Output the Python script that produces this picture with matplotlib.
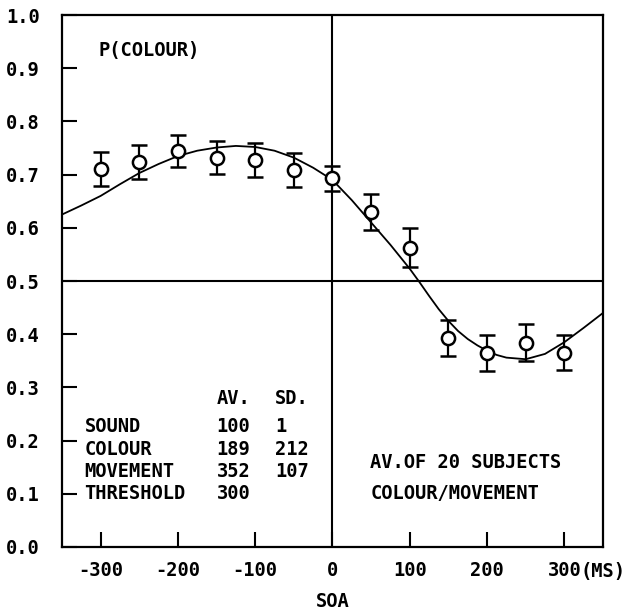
import matplotlib
matplotlib.use("Agg")
import matplotlib.pyplot as plt
import matplotlib.transforms as mtransforms

# observed points (SOA in ms, P(colour), error half-width)
soa = [-300, -250, -200, -150, -100, -50, 0, 50, 100, 150, 200, 250, 300]
p_colour = [0.711, 0.724, 0.744, 0.732, 0.727, 0.709, 0.693, 0.630, 0.563, 0.393, 0.365, 0.384, 0.365]
p_err = [0.032, 0.032, 0.030, 0.031, 0.032, 0.032, 0.024, 0.034, 0.036, 0.034, 0.034, 0.035, 0.033]

# fitted model curve
curve_x = [-350, -325, -300, -275, -250, -225, -200, -175, -150, -125, -100, -75, -50, -25,
           0, 25, 50, 75, 100, 112.5, 125, 137.5, 150, 162.5, 175, 187.5, 200, 212.5, 225,
           250, 275, 300, 325, 350]
curve_y = [0.625, 0.642, 0.660, 0.682, 0.703, 0.720, 0.735, 0.745, 0.751, 0.754, 0.752, 0.745,
           0.732, 0.713, 0.690, 0.652, 0.610, 0.568, 0.523, 0.498, 0.472, 0.447, 0.425, 0.406,
           0.391, 0.379, 0.369, 0.361, 0.356, 0.353, 0.363, 0.385, 0.412, 0.440]

x_ticks = [-300, -200, -100, 0, 100, 200, 300]
x_ticklabels = ["-300", "-200", "-100", "0", "100", "200", "300"]
y_ticks = [0.0, 0.1, 0.2, 0.3, 0.4, 0.5, 0.6, 0.7, 0.8, 0.9, 1.0]

table_rows = ["SOUND", "COLOUR", "MOVEMENT", "THRESHOLD"]
table_av = ["100", "189", "352", "300"]
table_sd = ["1", "212", "107", ""]

# plotter-style lettering: monospaced, fairly bold
plt.rcParams["font.family"] = "DejaVu Sans Mono"
plt.rcParams["font.weight"] = "bold"
fs = 13.5

fig = plt.figure(figsize=(6.35, 6.10), dpi=100)
ax = fig.add_axes([0.0976, 0.1033, 0.852, 0.872])

ax.plot(curve_x, curve_y, color="black", lw=1.3, zorder=2)
ax.errorbar(soa, p_colour, yerr=p_err, fmt="o", mfc="white", mec="black", mew=1.8,
            ms=9.5, ecolor="black", elinewidth=1.6, capsize=6, capthick=1.6, zorder=3)

ax.axvline(0, color="black", lw=1.5, zorder=1)
ax.axhline(0.5, color="black", lw=1.5, zorder=1)

ax.set_xlim(-350, 350)
ax.set_ylim(0, 1.0)
ax.set_xticks(x_ticks)
ax.set_xticklabels(x_ticklabels)
ax.set_yticks(y_ticks)
ax.set_yticklabels([f"{v:.1f}" for v in y_ticks])
ax.tick_params(axis="x", direction="in", length=11, width=1.5, pad=10, labelsize=fs)
ax.tick_params(axis="y", direction="in", length=11, width=1.5, pad=16, labelsize=fs)
for s in ax.spines.values():
    s.set_linewidth(1.6)

for lab in ax.get_xticklabels() + ax.get_yticklabels():
    lab.set_fontweight("bold")

# "(MS)" unit next to the 300 tick label
trans = mtransforms.blended_transform_factory(ax.transData, ax.transAxes)
ax.text(321, -0.028, "(MS)", transform=trans, ha="left", va="top", fontsize=fs,
        fontweight="bold", clip_on=False)
ax.text(0, -0.085, "SOA", transform=trans, ha="center", va="top", fontsize=fs,
        fontweight="bold", clip_on=False)

ax.text(-303, 0.934, "P(COLOUR)", ha="left", va="center", fontsize=fs, fontweight="bold")

# parameter table
ax.text(-150, 0.28, "AV.", ha="left", va="center", fontsize=fs, fontweight="bold")
ax.text(-74, 0.28, "SD.", ha="left", va="center", fontsize=fs, fontweight="bold")
row_y = [0.226, 0.184, 0.142, 0.101]
for name, av, sd, yy in zip(table_rows, table_av, table_sd, row_y):
    ax.text(-321, yy, name, ha="left", va="center", fontsize=fs, fontweight="bold")
    ax.text(-150, yy, av, ha="left", va="center", fontsize=fs, fontweight="bold")
    ax.text(-74, yy, sd, ha="left", va="center", fontsize=fs, fontweight="bold")

ax.text(49, 0.158, "AV.OF 20 SUBJECTS", ha="left", va="center", fontsize=fs, fontweight="bold")
ax.text(49, 0.101, "COLOUR/MOVEMENT", ha="left", va="center", fontsize=fs, fontweight="bold")

fig.savefig("out.png", dpi=100)
